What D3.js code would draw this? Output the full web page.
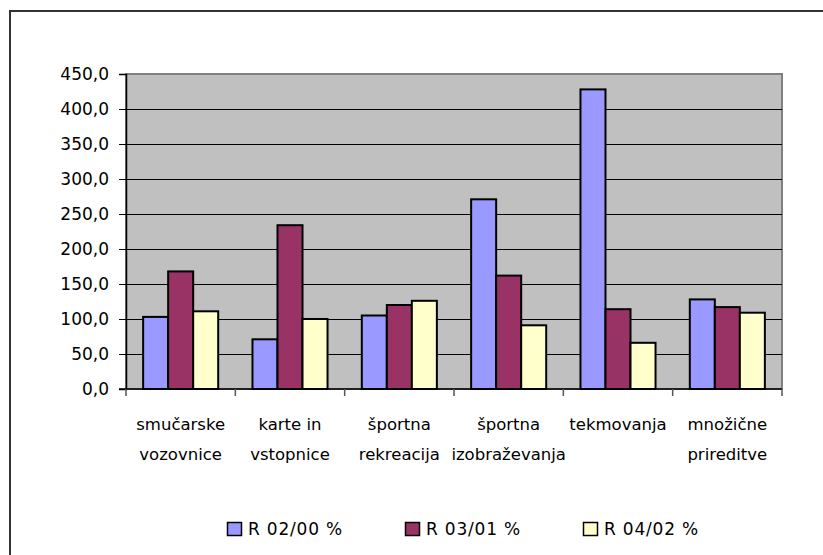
<!DOCTYPE html>
<html><head><meta charset="utf-8">
<script src="https://cdn.jsdelivr.net/npm/d3@7"></script>
<style>body{margin:0;background:#fff}svg{display:block}text{font-family:"DejaVu Sans",sans-serif;fill:#000}</style>
</head><body>
<svg id="c" width="823" height="555"></svg>
<script>
const categories = [["smučarske","vozovnice"],["karte in","vstopnice"],["športna","rekreacija"],["športna","izobraževanja"],["tekmovanja"],["množične","prireditve"]];
const seriesNames = ["R 02/00 %","R 03/01 %","R 04/02 %"];
const seriesColors = ["#9999ff","#993366","#ffffcc"];
const r0200 = [103, 71, 105, 271, 428, 128];
const r0301 = [168, 234, 120, 162, 114, 117];
const r0402 = [111, 100, 126, 91, 66, 109];
const yTicks = [0,50,100,150,200,250,300,350,400,450];

const series = [r0200, r0301, r0402];
const svg = d3.select("#c");
const L=126, R=782, T=74, B=389;

svg.append("rect").attr("x",10).attr("y",11).attr("width",830).attr("height",560)
  .attr("fill","#fff").attr("stroke","#333").attr("stroke-width",2);

const x0 = d3.scaleBand().domain(d3.range(categories.length)).range([L,R]).paddingInner(0).paddingOuter(0);
const gapFrac = 1.37/(3+1.37);
const x1 = d3.scaleBand().domain(d3.range(3)).range([x0.bandwidth()*gapFrac/2, x0.bandwidth()*(1-gapFrac/2)]);
const y = d3.scaleLinear().domain([0,450]).range([B,T]);

svg.append("rect").attr("x",L).attr("y",T).attr("width",R-L).attr("height",B-T)
  .attr("fill","#c0c0c0").attr("stroke","#808080").attr("stroke-width",2);

svg.append("g").selectAll("line").data(yTicks.slice(1,-1)).join("line")
  .attr("x1",L).attr("x2",R).attr("y1",d=>Math.round(y(d))+0.5).attr("y2",d=>Math.round(y(d))+0.5)
  .attr("stroke","#000").attr("stroke-width",1);

const g = svg.append("g");
categories.forEach((c,i)=>{
  series.forEach((s,j)=>{
    g.append("rect").attr("x",x0(i)+x1(j)).attr("y",y(s[i])).attr("width",x1.bandwidth()).attr("height",y(0)-y(s[i]))
      .attr("fill",seriesColors[j]).attr("stroke","#000").attr("stroke-width",2);
  });
});

// y axis
const ya = svg.append("g").attr("transform",`translate(${L},0)`)
  .call(d3.axisLeft(y).tickValues(yTicks).tickSize(7).tickPadding(10).tickFormat(d=>d3.format(".1f")(d).replace(".",",")));
ya.select(".domain").attr("stroke","#000").attr("stroke-width",1.5);
ya.selectAll(".tick line").attr("stroke","#000");
ya.selectAll("text").style("font-size","17px").style("font-family","DejaVu Sans");

// x axis
svg.append("line").attr("x1",L-7).attr("x2",R).attr("y1",B).attr("y2",B).attr("stroke","#000").attr("stroke-width",1.5);
const bounds = d3.range(categories.length+1).map(i=> i<categories.length? x0(i): R);
svg.append("g").selectAll("line").data(bounds).join("line")
  .attr("x1",d=>d).attr("x2",d=>d).attr("y1",B).attr("y2",B+7).attr("stroke","#555").attr("stroke-width",1.5);

const xl = svg.append("g");
categories.forEach((c,i)=>{
  const t = xl.append("text").attr("x",x0(i)+x0.bandwidth()/2).attr("y",430).attr("text-anchor","middle").style("font-size","16.5px");
  c.forEach((line,k)=>t.append("tspan").attr("x",x0(i)+x0.bandwidth()/2).attr("dy",k?30:0).text(line));
});

// legend
const legX = [227, 405, 583];
seriesNames.forEach((n,j)=>{
  svg.append("rect").attr("x",legX[j]+0.5).attr("y",522.5).attr("width",14).attr("height",13)
    .attr("fill",seriesColors[j]).attr("stroke","#000").attr("stroke-width",1.5);
  svg.append("text").attr("x",legX[j]+21).attr("y",535).style("font-size","17px").style("letter-spacing","0.8px").text(n);
});
</script>
</body></html>
